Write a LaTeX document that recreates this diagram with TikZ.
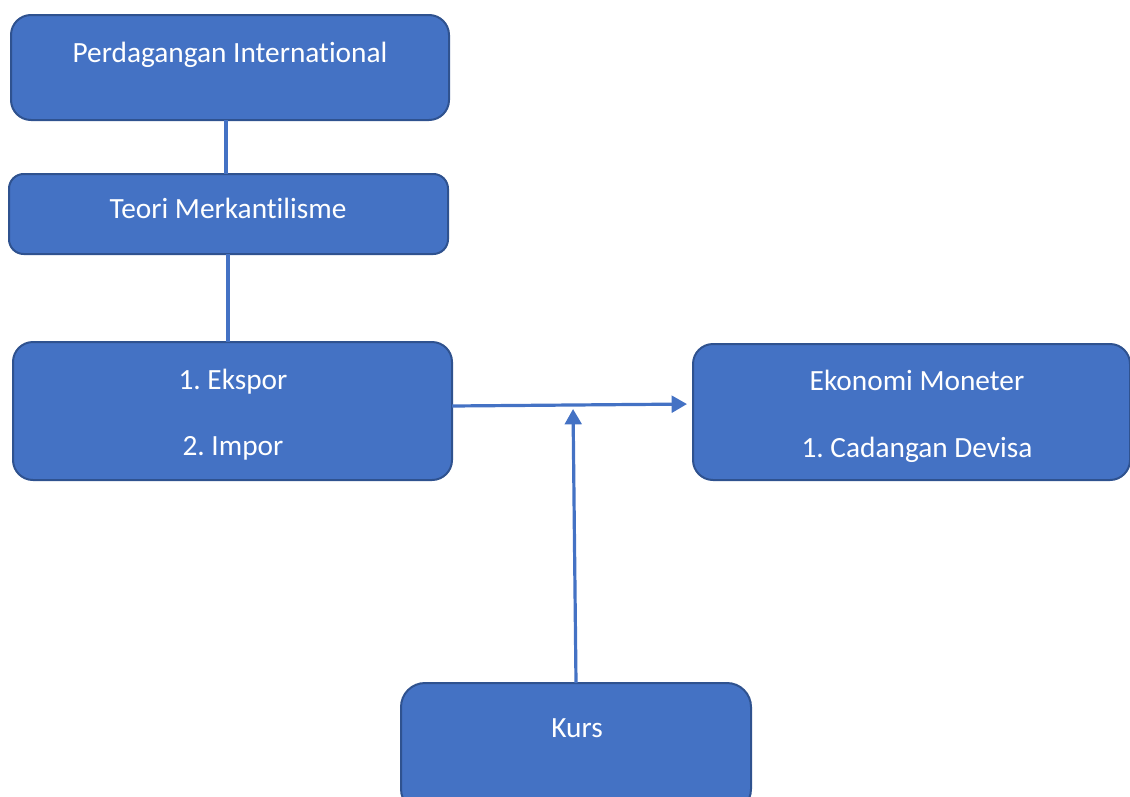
\documentclass[tikz,border=0pt]{standalone}
\usepackage{fontspec}
\setmainfont{Carlito}[Ligatures=NoCommon]
\frenchspacing
\usetikzlibrary{arrows.meta}
\definecolor{boxfill}{HTML}{4472C4}
\definecolor{boxline}{HTML}{2F528F}
\def\pu{0.75pt}
\tikzset{
  box/.style={draw=boxline, fill=boxfill, line width=1.5pt, rectangle, inner sep=0pt, outer sep=0pt},
  lbl/.style={text=white, font=\fontsize{22}{26}\selectfont, anchor=base, inner sep=0pt},
  conn/.style={draw=boxfill, line width=2.4pt},
  arr/.style={conn, -{Triangle[length=11.5pt,width=12.5pt]}}
}
\begin{document}
\begin{tikzpicture}[x=0.75pt,y=-0.75pt]
\useasboundingbox (0,0) rectangle (1130,796);
% boxes
\node[box, rounded corners=15pt, minimum width=438*\pu, minimum height=105*\pu] (b1) at (230,67.5) {};
\node[box, rounded corners=11pt, minimum width=439*\pu, minimum height=80*\pu] (b2) at (228.5,214) {};
\node[box, rounded corners=15pt, minimum width=439*\pu, minimum height=138*\pu] (b3) at (232.5,411) {};
\node[box, rounded corners=15pt, minimum width=437*\pu, minimum height=136*\pu] (b4) at (911.5,412) {};
\node[box, rounded corners=18pt, minimum width=350*\pu, minimum height=130*\pu] (b5) at (576,748) {};
% labels
\node[lbl] (t1) at (230,62) {Perdagangan International};
\node[lbl] (t2) at (228,218) {Teori Merkantilisme};
\node[lbl] (t3a) at (233,389) {1. Ekspor};
\node[lbl] (t3b) at (233,455) {2. Impor};
\node[lbl] (t4a) at (917,390) {Ekonomi Moneter};
\node[lbl] (t4b) at (917,457) {1. Cadangan Devisa};
\node[lbl] (t5) at (577,737) {Kurs};
% connectors
\draw[conn] (b1.south -| 226,0) -- (b2.north -| 226,0);
\draw[conn] (b2.south -| 228,0) -- (b3.north -| 228,0);
\draw[arr, shorten >=4.5pt] (b3.east |- 0,406) -- (b4.west |- 0,404);
\coordinate (j) at (573,405);
\draw[arr, shorten >=3pt] (b5.north -| 576,0) -- (j);
\end{tikzpicture}
\end{document}
